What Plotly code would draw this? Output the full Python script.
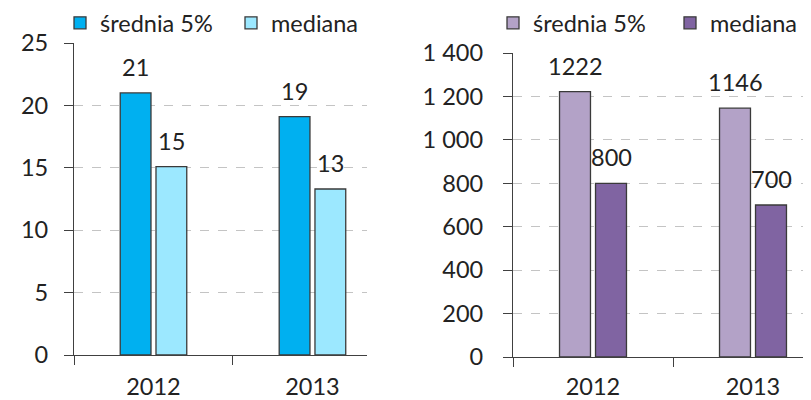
import plotly.graph_objects as go

years = ["2012", "2013"]
series_names = ["średnia 5%", "mediana"]

# left chart values
left_srednia = [21.0, 19.1]
left_mediana = [15.1, 13.3]
left_srednia_lbl = ["21", "19"]
left_mediana_lbl = ["15", "13"]

# right chart values
right_srednia = [1222, 1146]
right_mediana = [800, 700]
right_srednia_lbl = ["1222", "1146"]
right_mediana_lbl = ["800", "700"]

left_colors = ["#00B0F0", "#9CE8FF"]
right_colors = ["#B3A2C7", "#8064A2"]
edge = dict(color="#3A3A3A", width=1.3)
FONT = "Lato"
FS = 23.5

# page body has an 8px margin; figure is sized so it ends at the window edge
OFF = 8
W, H = 811 - OFF, 400 - OFF


def px(x):
    return (x - OFF) / W


def py(y):
    return (400 - y) / H


fig = go.Figure()
fig.add_trace(go.Bar(x=years, y=left_srednia, name=series_names[0], marker=dict(color=left_colors[0], line=edge),
                     xaxis="x", yaxis="y", legend="legend"))
fig.add_trace(go.Bar(x=years, y=left_mediana, name=series_names[1], marker=dict(color=left_colors[1], line=edge),
                     xaxis="x", yaxis="y", legend="legend2"))
fig.add_trace(go.Bar(x=years, y=right_srednia, name=series_names[0], marker=dict(color=right_colors[0], line=edge),
                     xaxis="x2", yaxis="y2", legend="legend3"))
fig.add_trace(go.Bar(x=years, y=right_mediana, name=series_names[1], marker=dict(color=right_colors[1], line=edge),
                     xaxis="x2", yaxis="y2", legend="legend4"))

annotations = []
for xref, yref, vals, lbls, shift in [
    ("x", "y", left_srednia, left_srednia_lbl, -18),
    ("x", "y", left_mediana, left_mediana_lbl, 18),
    ("x2", "y2", right_srednia, right_srednia_lbl, -18),
    ("x2", "y2", right_mediana, right_mediana_lbl, 18),
]:
    for i, (v, t) in enumerate(zip(vals, lbls)):
        annotations.append(dict(x=i, y=v, xref=xref, yref=yref, text=t, showarrow=False,
                                xshift=shift, yshift=26, yanchor="middle",
                                font=dict(family=FONT, size=FS, color="#222222")))

axis_common = dict(showline=True, linecolor="#404040", linewidth=1.3, ticks="outside", ticklen=9,
                   tickcolor="#404040", tickwidth=1.3, automargin=False,
                   tickfont=dict(family=FONT, size=FS, color="#222222"))

legend_common = dict(orientation="h", xanchor="left", yanchor="top", y=py(1),
                     font=dict(family=FONT, size=FS, color="#222222"), bgcolor="rgba(0,0,0,0)")

fig.update_layout(
    width=W, height=H, margin=dict(l=0, r=0, t=0, b=0, autoexpand=False),
    paper_bgcolor="white", plot_bgcolor="white",
    barmode="group", bargap=0.55, bargroupgap=0.14,
    separators=", ",
    showlegend=True,
    annotations=annotations,
    xaxis=dict(domain=[px(74), px(367)], type="category", range=[-0.5, 1.343], tickson="boundaries",
               anchor="y", ticklabelstandoff=11, **axis_common),
    yaxis=dict(domain=[py(355), py(43)], range=[0, 25], dtick=5, anchor="x",
               showgrid=True, gridcolor="#C4C4C4", griddash="dash", gridwidth=1, zeroline=False,
               ticklabelstandoff=11, **axis_common),
    xaxis2=dict(domain=[px(513), 1.0], type="category", range=[-0.5, 1.3625], tickson="boundaries",
                anchor="y2", ticklabelstandoff=9, **axis_common),
    yaxis2=dict(domain=[py(357), py(53)], range=[0, 1400], dtick=200, anchor="x2",
                showgrid=True, gridcolor="#C4C4C4", griddash="dash", gridwidth=1, zeroline=False,
                separatethousands=True, ticklabelstandoff=15, **axis_common),
    legend=dict(x=px(60), **legend_common),
    legend2=dict(x=px(231), **legend_common),
    legend3=dict(x=px(493), **legend_common),
    legend4=dict(x=px(670), **legend_common),
)

fig.write_html("out.html")
